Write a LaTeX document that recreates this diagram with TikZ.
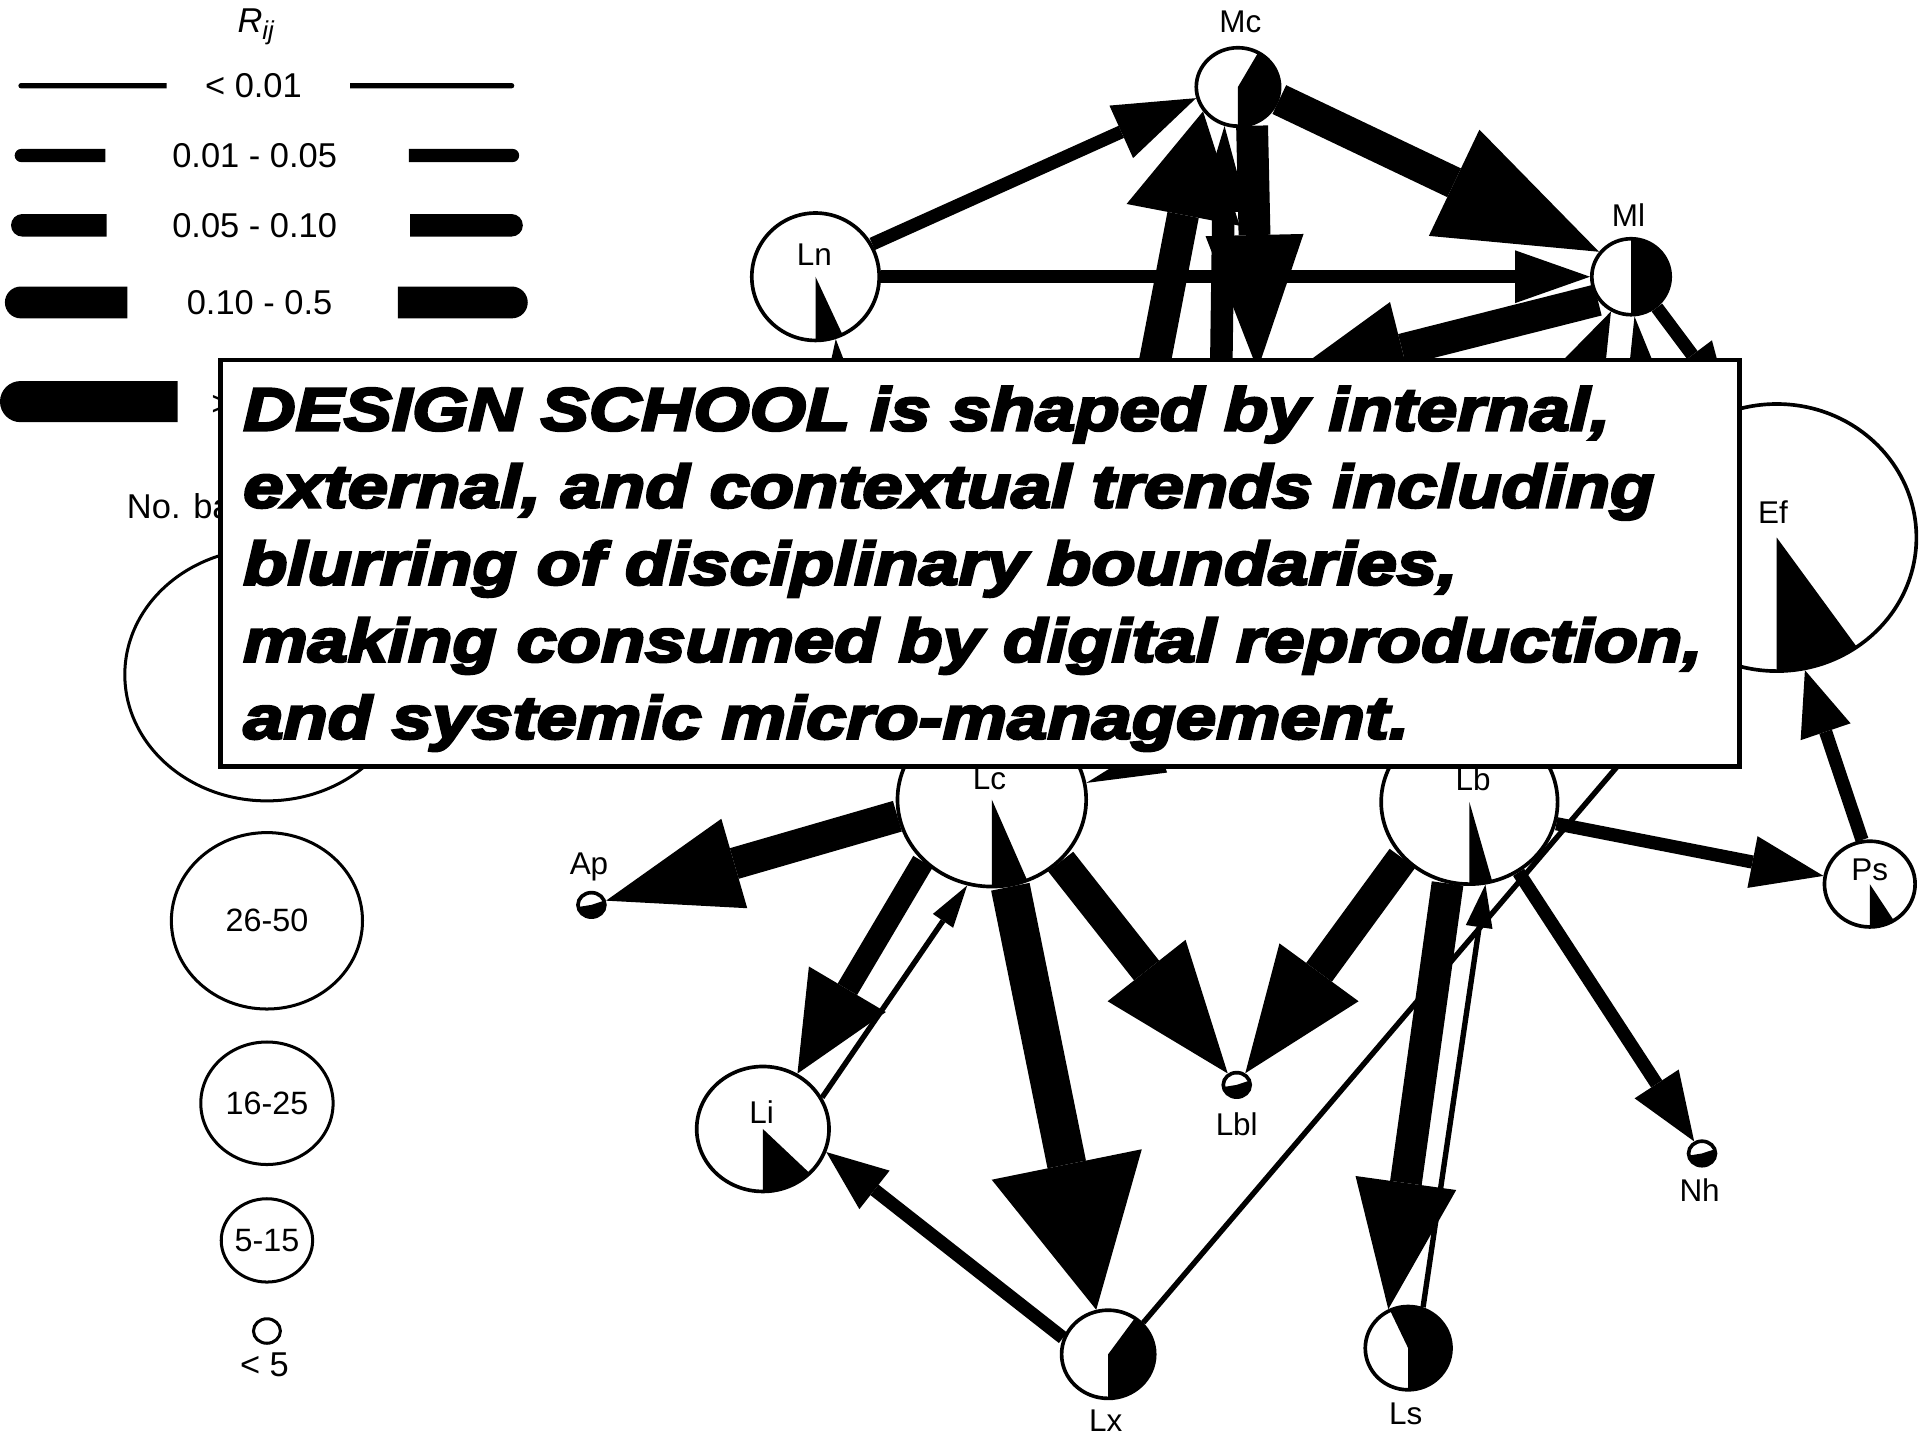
\documentclass[tikz,border=0pt]{standalone}
\usepackage{fontspec}
\setmainfont{Liberation Sans}
\newfontfamily\headfont[FakeBold=4.5, FakeStretch=1.2]{Liberation Sans Bold Italic}
\usetikzlibrary{shapes.geometric,arrows.meta,positioning}

% one slice of a pie inside a site: node, start, end, x radius, y radius
\newcommand\slice[5]{\fill (#1.center) -- ++(#2:#4 and #5) arc[start angle=#2, end angle=#3, x radius=#4, y radius=#5] -- cycle;}

\tikzset{
	tag/.style={font=\fontsize{7.3}{8.8}\selectfont, inner sep=0pt},
	key/.style={font=\fontsize{8}{9.6}\selectfont, inner sep=0pt},
	site/.style 2 args={ellipse, draw, fill=white, line width=0.85pt, inner sep=0pt, minimum width=#1*0.2mm, minimum height=#2*0.2mm},
	sizekey/.style 2 args={site={#1}{#2}, line width=0.7pt, font=\fontsize{7.5}{9}\selectfont},
	w1/.style={line width=0.44mm},
	w2/.style={line width=1.08mm},
	w3/.style={line width=1.84mm},
	w4/.style={line width=2.6mm},
	w5/.style={line width=3.2mm},
	ahead/.style 2 args={-{Triangle[length=#1, width=#2, line width=0pt]}},
}

\begin{document}
\begin{tikzpicture}[x=0.01cm, y=0.01cm]
	\useasboundingbox (0,0) rectangle (1568,-1176);

	% Legend: line widths
	\node[key] (rij) at (210,-22) {\textit{R}\textsubscript{\textit{ij}}};
	\foreach \y/\h/\a/\b/\c/\d in {70/2.2/15/136/286/420, 127/5.4/12/86/334/424, 184/9.2/9/87/335/427, 247/13/4/104/325/431, 328/16.8/0/145/325/431}{
		\fill ({\b},{-\y+\h}) -- ({\a+\h},{-\y+\h}) arc[start angle=90, end angle=270, radius=\h] -- ({\b},{-\y-\h}) -- cycle;
		\fill ({\c},{-\y+\h}) -- ({\d-\h},{-\y+\h}) arc[start angle=90, end angle=-90, radius=\h] -- ({\c},{-\y-\h}) -- cycle;
	}
	\node[key] (r1) at (207,-70) {< 0.01};
	\node[key] (r2) at (208,-127) {0.01 - 0.05};
	\node[key] (r3) at (208,-184) {0.05 - 0.10};
	\node[key] (r4) at (212,-247) {0.10 - 0.5};
	\node[key, anchor=west] (r5) at (172,-330) {> 0.5};

	% Legend: circle sizes
	\node[key, anchor=west] (nob) at (103,-413) {No. bands};
	\node[sizekey={116}{103}] (sz1) at (218,-551) {};
	\node[sizekey={78}{72}] (sz2) at (218,-752) {26-50};
	\node[sizekey={54}{50}] (sz3) at (218,-901) {16-25};
	\node[sizekey={36}{34}] (sz4) at (218,-1013) {5-15};
	\node[sizekey={11}{10}] (sz5) at (218,-1087) {};
	\node[key] (sz5lab) at (216,-1115) {< 5};

	% Sites
	\node[site={34}{32}] (Mc) at (1011,-71) {};
	\node[site={32}{31}] (Ml) at (1332,-226) {};
	\node[site={52}{52}] (Ln) at (666,-226) {};
	\node[site={114}{109}] (Ef) at (1451,-439) {};
	\node[site={77}{71}] (Lc) at (810,-653) {};
	\node[site={72}{67}] (Lb) at (1200,-655) {};
	\node[site={54}{51}] (Li) at (623,-922) {};
	\node[site={38}{36}] (Lx) at (905,-1106) {};
	\node[site={35}{34}] (Ls) at (1150,-1101) {};
	\node[site={37}{35}] (Ps) at (1527,-722) {};
	\node[site={11}{10}] (Ap) at (483,-739) {};
	\node[site={11}{10}] (Lbl) at (1010,-886) {};
	\node[site={11}{10}] (Nh) at (1390,-942) {};

	% Pies
	\slice{Mc}{-90}{61}{34}{32}
	\slice{Ml}{-90}{90}{32}{31}
	\slice{Ln}{-90}{-65}{52}{52}
	\slice{Ef}{-90}{-55}{114}{109}
	\slice{Lc}{-90}{-68}{77}{71}
	\slice{Lb}{-90}{-75}{72}{67}
	\slice{Li}{-90}{-45}{54}{51}
	\slice{Lx}{-90}{55}{38}{36}
	\slice{Ls}{-90}{115}{35}{34}
	\slice{Ps}{-90}{-58}{37}{35}
	\slice{Ap}{-170}{20}{11}{10}
	\slice{Lbl}{-170}{20}{11}{10}
	\slice{Nh}{-170}{20}{11}{10}

	% Ends that lie under the text box
	\coordinate (hA) at (923,-400);
	\coordinate (hB) at (996,-400);
	\coordinate (hC) at (1027,-302);
	\coordinate (hD) at (1048,-310);
	\coordinate (hE) at (1280,-330);
	\coordinate (hF) at (1345,-330);
	\coordinate (hG) at (1412,-330);
	\coordinate (hH) at (692,-400);

	% Flows
	\draw[w2, ahead={6.7mm}{4.7mm}] (Ln.30) -- (Mc.195);
	\draw[w2, ahead={6.1mm}{4.3mm}] (Ln) -- (Ml);
	\draw[w4, ahead={13.1mm}{9.6mm}] (Mc.-17) -- (Ml.142);
	\draw[w4, ahead={8.6mm}{9.4mm}] (hA) -- (Mc.215);
	\draw[w3, ahead={7mm}{4mm}] (hB) -- (Mc.251);
	\draw[w4, ahead={11mm}{8mm}] (Mc.290) -- (hC);
	\draw[w4, ahead={10mm}{8mm}] (Ml.215) -- (hD);
	\draw[w3, ahead={5mm}{3.5mm}] (hE) -- (Ml.240);
	\draw[w1, ahead={4mm}{2mm}] (hF) -- (Ml.275);
	\draw[w2, ahead={5mm}{4mm}] (Ml.-50) -- (hG);
	\draw[w2, ahead={5mm}{3mm}] (hH) -- (Ln.-72);
	\draw[w1, ahead={6.5mm}{2.8mm}] (Ef.200) -- (Lc.10);
	\draw[w4, ahead={10.9mm}{7.6mm}] (Lc.190) -- (Ap);
	\draw[w3, ahead={8mm}{7.3mm}] (Lc.222) -- (Li.58);
	\draw[w1, ahead={3.5mm}{2mm}] (Li.28) -- (Lc.254);
	\draw[w5, ahead={12.1mm}{12.5mm}] (Lc.-78) -- (Lx.105);
	\draw[w4, ahead={10.7mm}{8.1mm}] (Lc.-42) -- (Lbl);
	\draw[w4, ahead={10.2mm}{8mm}] (Lb.220) -- (Lbl);
	\draw[w4, ahead={10.4mm}{8.3mm}] (Lb.255) -- (Ls.117);
	\draw[w1, ahead={3.5mm}{2.2mm}] (Ls.70) -- (Lb.-79);
	\draw[w2, ahead={5.9mm}{4.3mm}] (Lb.-14) -- (Ps.170);
	\draw[w2, ahead={5.6mm}{4.3mm}] (Lb.-55) -- (Nh);
	\draw[w2, ahead={5.3mm}{4.3mm}] (Ps.100) -- (Ef.-78);
	\draw[w2, ahead={5mm}{4mm}] (Lx.160) -- (Li.-20);
	\draw[w1, ahead={2.5mm}{1.5mm}] (Lx.42) -- (Ef.241);

	% Site names
	\node[tag] (mclab) at (1013,-18) {Mc};
	\node[tag] (mllab) at (1330,-176) {Ml};
	\node[tag] (lnlab) at (665,-208) {Ln};
	\node[tag] (eflab) at (1448,-418) {Ef};
	\node[tag] (lclab) at (808,-636) {Lc};
	\node[tag] (lblab) at (1203,-636) {Lb};
	\node[tag] (lilab) at (622,-908) {Li};
	\node[tag] (lxlab) at (903,-1160) {Lx};
	\node[tag] (lslab) at (1148,-1155) {Ls};
	\node[tag] (pslab) at (1527,-710) {Ps};
	\node[tag] (aplab) at (481,-708) {Ap};
	\node[tag] (lbllab) at (1010,-918) {Lbl};
	\node[tag] (nhlab) at (1388,-972) {Nh};

	% Text box on top
	\node[draw, fill=white, line width=1.1pt, anchor=north west, inner sep=0pt, minimum width=124mm, minimum height=33.2mm] (msgbox) at (178,-292) {};
	\node[anchor=north west, align=left, inner sep=0pt, font=\headfont\fontsize{14}{17.9}\selectfont] (msg) at ([shift={(20,-23)}]msgbox.north west) {DESIGN SCHOOL is shaped by internal,\\external, and contextual trends including\\blurring of disciplinary boundaries,\\making consumed by digital reproduction,\\and systemic micro-management.};
\end{tikzpicture}
\end{document}
